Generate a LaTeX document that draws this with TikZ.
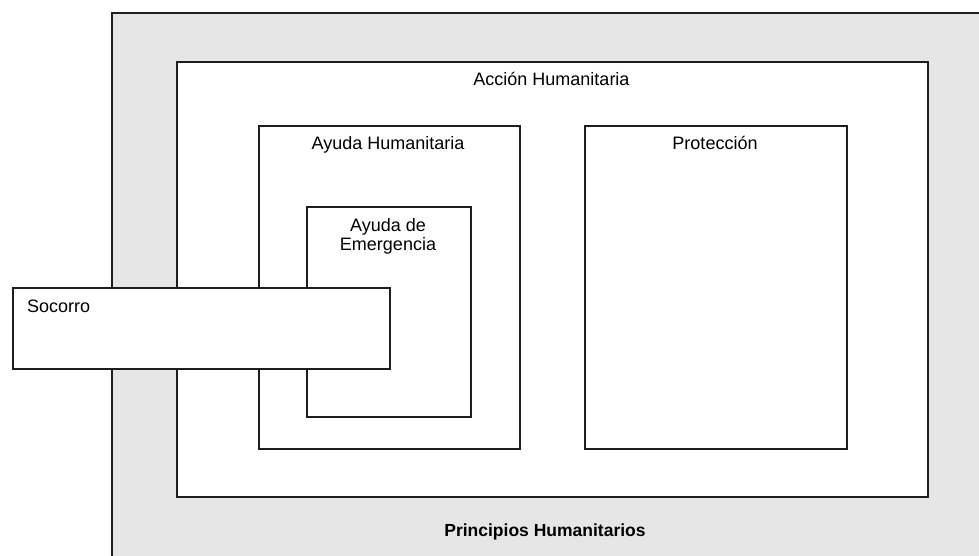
\documentclass[tikz,border=0pt]{standalone}
\usepackage{fontspec}
\setmainfont{Liberation Sans}
\definecolor{bggray}{RGB}{230,230,230}
\definecolor{edge}{RGB}{30,30,30}
\begin{document}
\begin{tikzpicture}[x=1pt,y=-1pt,
  box/.style={draw=edge, line width=1.8pt, fill=white, rectangle, inner sep=0pt, anchor=north west},
  lbl/.style={font=\fontsize{18}{21}\selectfont, inner sep=0pt, anchor=base},
  boldlbl/.style={font=\fontsize{17.5}{21}\selectfont\bfseries, inner sep=0pt, anchor=base}]
\useasboundingbox (0,0) rectangle (979,555);
\clip (0,0) rectangle (979,555);
% outer principles box
\node[box, fill=bggray, minimum width=900pt, minimum height=560pt] (outer) at (111,12) {};
% Accion Humanitaria
\node[box, minimum width=751pt, minimum height=435pt] (accion) at (176,61) {};
% Ayuda Humanitaria
\node[box, minimum width=261pt, minimum height=323pt] (ayuda) at (258,125) {};
% Proteccion
\node[box, minimum width=262pt, minimum height=323pt] (prot) at (584,125) {};
% Ayuda de Emergencia
\node[box, minimum width=164pt, minimum height=210pt] (emerg) at (306,206) {};
% Socorro
\node[box, minimum width=377pt, minimum height=81pt] (socorro) at (12,287) {};
% labels
\node[lbl] (taccion) at (551.5,85) {Acción Humanitaria};
\node[lbl] (tayuda) at (388,149) {Ayuda Humanitaria};
\node[lbl] (tprot) at (715,149) {Protección};
\node[lbl] (temerg1) at (388,231) {Ayuda de};
\node[lbl] (temerg2) at (388,250) {Emergencia};
\node[lbl, anchor=base west] (tsoc) at (27,312) {Socorro};
\node[boldlbl] (tprin) at (545,536) {Principios Humanitarios};
\end{tikzpicture}
\end{document}
